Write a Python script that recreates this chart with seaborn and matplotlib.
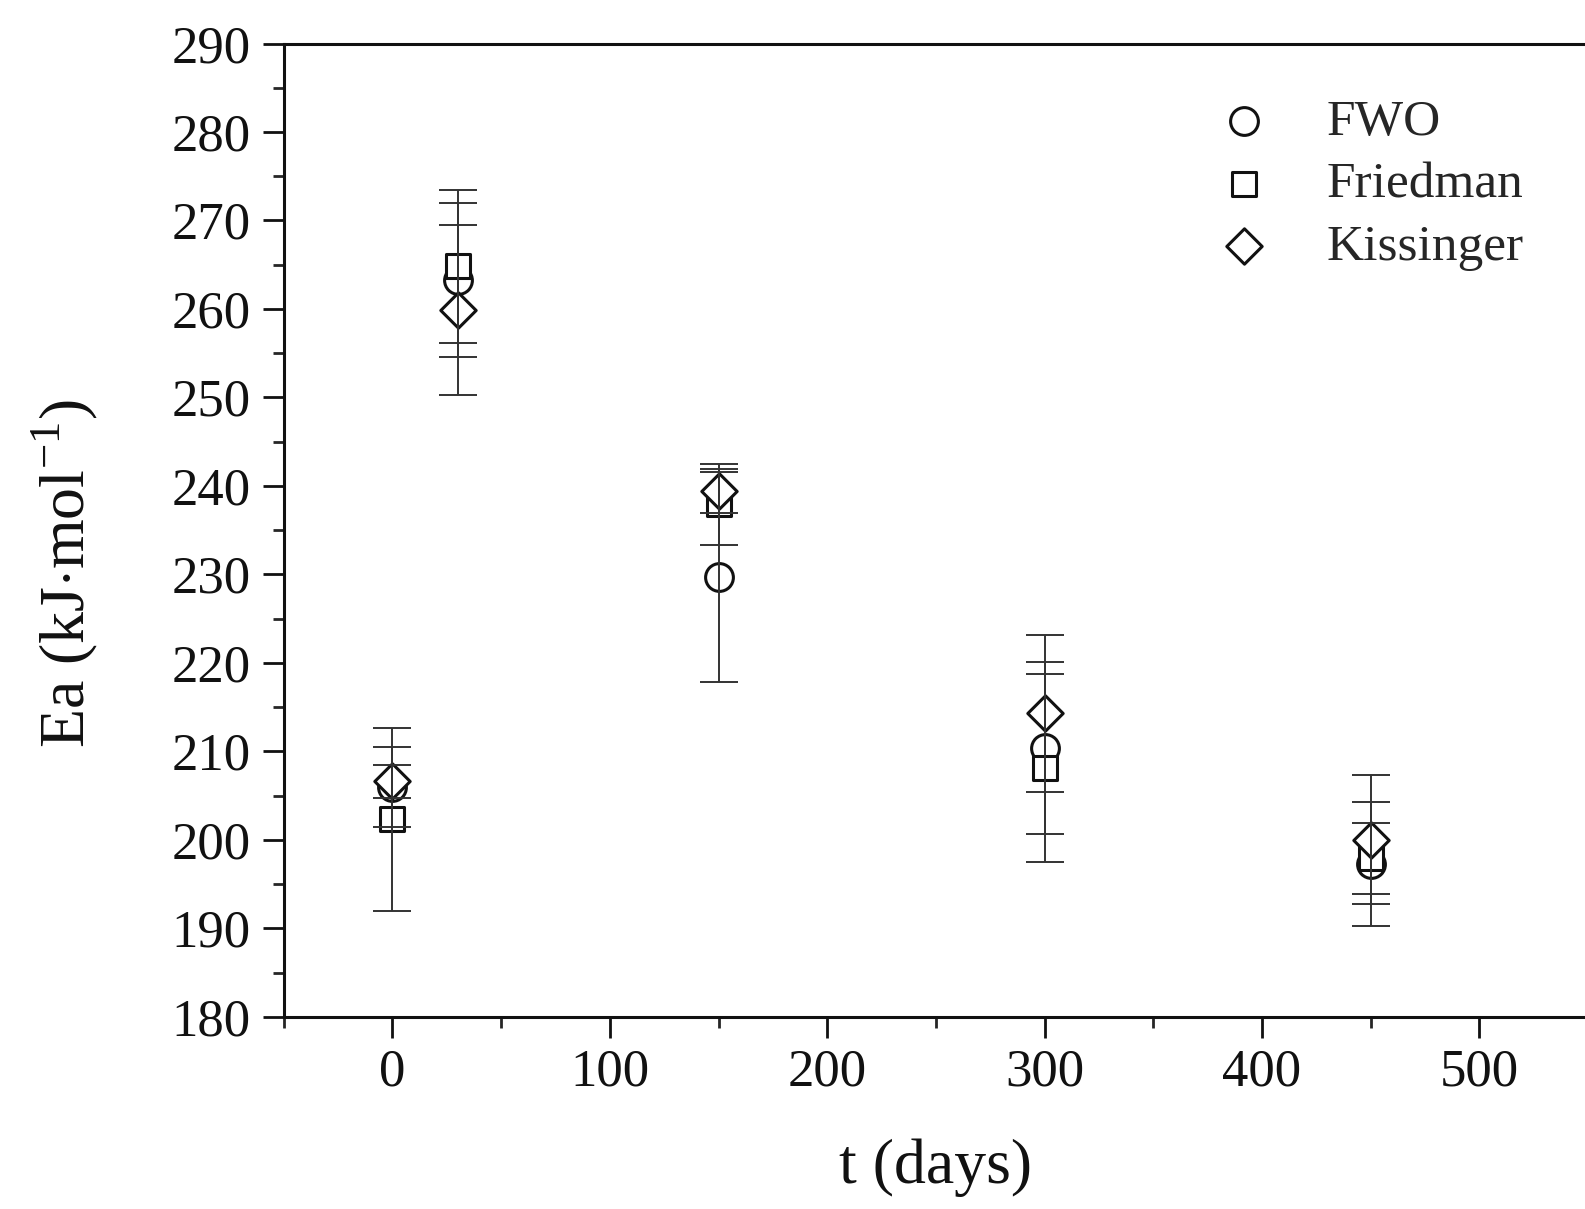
import numpy as np
import pandas as pd
import matplotlib
matplotlib.use("Agg")
import matplotlib.pyplot as plt
from matplotlib.ticker import MultipleLocator
import seaborn as sns

# ---- data ----
t_days = [0, 30, 150, 300, 450]
fwo = [206.0, 263.3, 229.7, 210.4, 197.3]
fwo_err = [4.5, 8.7, 11.9, 9.7, 7.0]
friedman = [202.3, 264.8, 237.9, 208.1, 197.9]
friedman_err = [10.3, 8.6, 4.6, 10.6, 4.0]
kissinger = [206.6, 259.9, 239.4, 214.3, 200.0]
kissinger_err = [1.9, 9.6, 2.5, 8.9, 7.3]
methods = ["FWO", "Friedman", "Kissinger"]

df = pd.DataFrame({
    "t": t_days * 3,
    "Ea": fwo + friedman + kissinger,
    "err": fwo_err + friedman_err + kissinger_err,
    "method": sum([[m] * len(t_days) for m in methods], []),
})

sns.set_theme(style="ticks")
plt.rcParams["font.family"] = ["Liberation Serif", "DejaVu Serif"]
plt.rcParams["mathtext.fontset"] = "custom"
plt.rcParams["mathtext.rm"] = "Liberation Serif"

fig = plt.figure(figsize=(15.85, 12.09), dpi=100)
ax = fig.add_axes([0.179, 0.159, 0.823, 0.805])

marker_map = {"FWO": "o", "Friedman": "s", "Kissinger": "D"}
size_map = {"FWO": 20, "Friedman": 17, "Kissinger": 18}

for i, m in enumerate(methods):
    sub = df[df["method"] == m]
    sns.scatterplot(data=sub, x="t", y="Ea", marker=marker_map[m],
                    s=size_map[m] ** 2, facecolor="white", edgecolor="#111111",
                    linewidth=2.2, ax=ax, zorder=3 + i, label=m)
    ax.errorbar(sub["t"], sub["Ea"], yerr=sub["err"], fmt="none",
                ecolor="#333333", elinewidth=1.4, capsize=14, capthick=1.4,
                zorder=10)

ax.set_xlim(-50, 550)
ax.set_ylim(180, 290)
ax.xaxis.set_major_locator(MultipleLocator(100))
ax.xaxis.set_minor_locator(MultipleLocator(50))
ax.yaxis.set_major_locator(MultipleLocator(10))
ax.yaxis.set_minor_locator(MultipleLocator(5))
ax.tick_params(axis="both", which="major", direction="out", length=15, width=2,
               labelsize=38, colors="#111111")
ax.tick_params(axis="x", which="major", pad=8)
ax.tick_params(axis="y", which="major", pad=9)
ax.tick_params(axis="both", which="minor", direction="out", length=8, width=2)
ax.tick_params(top=False, right=False, which="both")
for s in ax.spines.values():
    s.set_linewidth(2.2)
    s.set_color("#111111")

ax.set_xlabel("t (days)", fontsize=46, labelpad=30, color="#111111")
ax.set_ylabel(r"Ea (kJ$\cdot$mol$^{\mathregular{-1}}$)", fontsize=46,
              color="#111111")
ax.yaxis.set_label_coords(-0.141, 0.455)

leg = ax.legend(loc="upper right", bbox_to_anchor=(0.978, 0.98), frameon=False,
                fontsize=37, handletextpad=0.9, labelspacing=0.3,
                markerscale=1.0, borderaxespad=0.3, handlelength=1.4)

fig.savefig("out.png", dpi=100)
